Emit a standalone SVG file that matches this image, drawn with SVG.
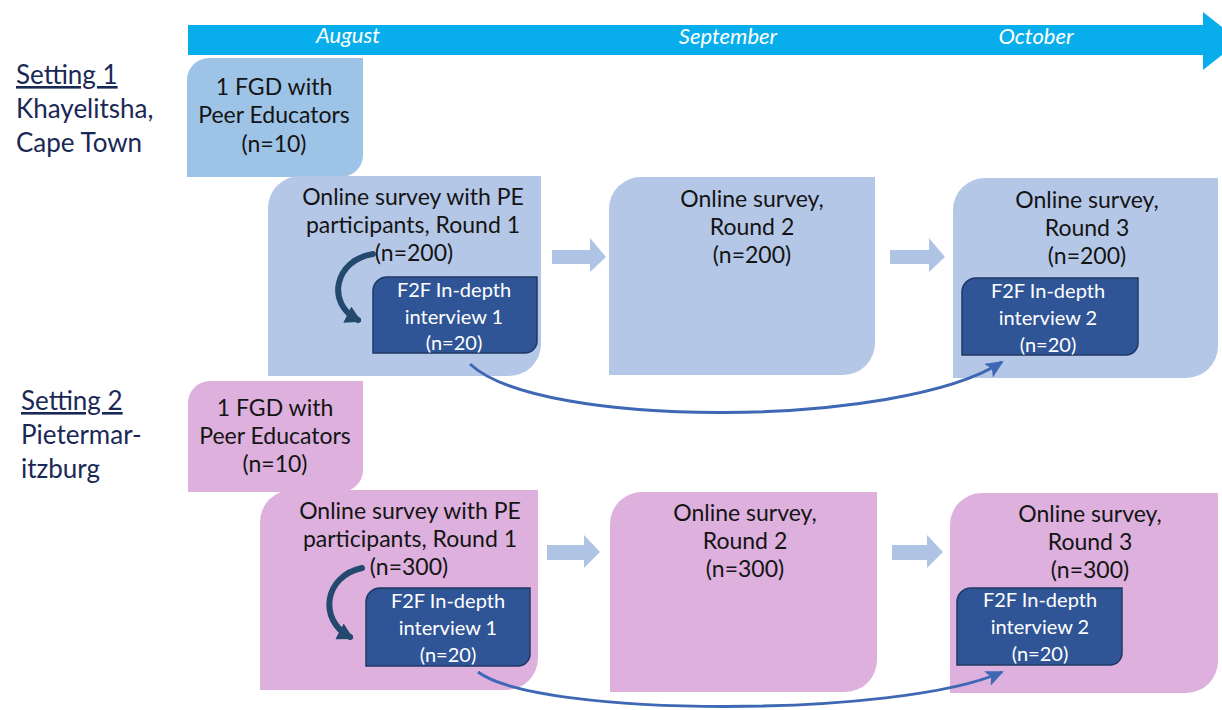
<svg xmlns="http://www.w3.org/2000/svg" width="1222" height="710" viewBox="0 0 1222 710">
  <defs>
    <style>
      .box-txt { font-family: Lato, "Liberation Sans", sans-serif; font-size: 23px; fill: #141414; text-anchor: middle; }
      .f2f-txt { font-family: Lato, "Liberation Sans", sans-serif; font-size: 20px; fill: #ffffff; text-anchor: middle; }
      .month { font-family: Lato, "Liberation Sans", sans-serif; font-size: 22px; font-style: italic; fill: #ffffff; text-anchor: middle; }
      .setting { font-family: Lato, "Liberation Sans", sans-serif; font-size: 26px; fill: #1a2856; }
      .blue1 { fill: #9dc3e6; }
      .blue2 { fill: #b4c7e7; }
      .pink { fill: #ddb0de; }
      .f2f { fill: #2f5597; stroke: #1f3864; stroke-width: 1.5; }
      .step { fill: #afc3e4; }
      .loop { fill: none; stroke: #234a6e; stroke-width: 6; stroke-linecap: round; }
      .link { fill: none; stroke: #3e68b3; stroke-width: 3; }
    </style>
    <marker id="loopHead" markerUnits="userSpaceOnUse" markerWidth="20" markerHeight="20" refX="12" refY="9" orient="auto">
      <path d="M0,0 L16,9 L0,18 Z" fill="#234a6e"/>
    </marker>
    <marker id="linkHead" markerUnits="userSpaceOnUse" markerWidth="20" markerHeight="18" refX="16" refY="8" orient="auto">
      <path d="M0,0 L18,8 L0,16 L4,8 Z" fill="#3e68b3"/>
    </marker>
  </defs>

  <rect width="1222" height="710" fill="#ffffff"/>

  <!-- timeline -->
  <g id="timeline">
    <polygon points="188,25 1203,25 1203,12 1240,41 1203,70 1203,55 188,55" fill="#07aeeb"/>
    <text class="month" x="348" y="43">August</text>
    <text class="month" x="728" y="44">September</text>
    <text class="month" x="1036" y="44">October</text>
  </g>

  <!-- setting labels -->
  <g id="setting1">
    <text class="setting" x="16" y="84" text-decoration="underline">Setting 1</text>
    <text class="setting" x="16" y="118">Khayelitsha,</text>
    <text class="setting" x="16" y="152">Cape Town</text>
  </g>
  <g id="setting2">
    <text class="setting" x="21" y="410" text-decoration="underline">Setting 2</text>
    <text class="setting" x="21" y="444">Pietermar-</text>
    <text class="setting" x="21" y="478">itzburg</text>
  </g>

  <!-- Setting 1 row -->
  <g id="s1-fgd">
    <path class="blue1" d="M187,80 A22,22 0 0 1 209,58 H363 V155 A22,22 0 0 1 341,177 H187 Z"/>
    <text class="box-txt" x="274" y="95">1 FGD with</text>
    <text class="box-txt" x="274" y="123">Peer Educators</text>
    <text class="box-txt" x="274" y="152">(n=10)</text>
  </g>
  <g id="s1-round1">
    <path class="blue2" d="M268,208 A32,32 0 0 1 300,176 H541 V344 A32,32 0 0 1 509,376 H268 Z"/>
    <text class="box-txt" x="413" y="205">Online survey with PE</text>
    <text class="box-txt" x="413" y="233">participants, Round 1</text>
    <text class="box-txt" x="414" y="261">(n=200)</text>
  </g>
  <g id="s1-idi1">
    <path class="f2f" d="M373,291 A14,14 0 0 1 387,277 H537 V341 A12,12 0 0 1 525,353 H373 Z"/>
    <text class="f2f-txt" x="454" y="297">F2F In-depth</text>
    <text class="f2f-txt" x="454" y="324">interview 1</text>
    <text class="f2f-txt" x="454" y="350">(n=20)</text>
  </g>
  <g id="s1-round2">
    <path class="blue2" d="M609,209 A32,32 0 0 1 641,177 H875 V343 A32,32 0 0 1 843,375 H609 Z"/>
    <text class="box-txt" x="752" y="207">Online survey,</text>
    <text class="box-txt" x="752" y="235">Round 2</text>
    <text class="box-txt" x="752" y="263">(n=200)</text>
  </g>
  <g id="s1-round3">
    <path class="blue2" d="M953,210 A32,32 0 0 1 985,178 H1218 V346 A32,32 0 0 1 1186,378 H953 Z"/>
    <text class="box-txt" x="1087" y="208">Online survey,</text>
    <text class="box-txt" x="1087" y="236">Round 3</text>
    <text class="box-txt" x="1087" y="264">(n=200)</text>
  </g>
  <g id="s1-idi2">
    <path class="f2f" d="M962,292 A14,14 0 0 1 976,278 H1138 V343 A12,12 0 0 1 1126,355 H962 Z"/>
    <text class="f2f-txt" x="1048" y="298">F2F In-depth</text>
    <text class="f2f-txt" x="1048" y="325">interview 2</text>
    <text class="f2f-txt" x="1048" y="352">(n=20)</text>
  </g>

  <!-- Setting 2 row -->
  <g id="s2-fgd">
    <path class="pink" d="M188,403 A22,22 0 0 1 210,381 H363 V470 A22,22 0 0 1 341,492 H188 Z"/>
    <text class="box-txt" x="275" y="416">1 FGD with</text>
    <text class="box-txt" x="275" y="444">Peer Educators</text>
    <text class="box-txt" x="275" y="472">(n=10)</text>
  </g>
  <g id="s2-round1">
    <path class="pink" d="M260,522 A32,32 0 0 1 292,490 H538 V658 A32,32 0 0 1 506,690 H260 Z"/>
    <text class="box-txt" x="410" y="519">Online survey with PE</text>
    <text class="box-txt" x="410" y="547">participants, Round 1</text>
    <text class="box-txt" x="409" y="575">(n=300)</text>
  </g>
  <g id="s2-idi1">
    <path class="f2f" d="M366,602 A14,14 0 0 1 380,588 H530 V654 A12,12 0 0 1 518,666 H366 Z"/>
    <text class="f2f-txt" x="448" y="608">F2F In-depth</text>
    <text class="f2f-txt" x="448" y="635">interview 1</text>
    <text class="f2f-txt" x="448" y="662">(n=20)</text>
  </g>
  <g id="s2-round2">
    <path class="pink" d="M610,524 A32,32 0 0 1 642,492 H877 V660 A32,32 0 0 1 845,692 H610 Z"/>
    <text class="box-txt" x="745" y="521">Online survey,</text>
    <text class="box-txt" x="745" y="549">Round 2</text>
    <text class="box-txt" x="745" y="577">(n=300)</text>
  </g>
  <g id="s2-round3">
    <path class="pink" d="M950,525 A32,32 0 0 1 982,493 H1218 V661 A32,32 0 0 1 1186,693 H950 Z"/>
    <text class="box-txt" x="1090" y="522">Online survey,</text>
    <text class="box-txt" x="1090" y="550">Round 3</text>
    <text class="box-txt" x="1090" y="578">(n=300)</text>
  </g>
  <g id="s2-idi2">
    <path class="f2f" d="M957,602 A14,14 0 0 1 971,588 H1122 V653 A12,12 0 0 1 1110,665 H957 Z"/>
    <text class="f2f-txt" x="1040" y="607">F2F In-depth</text>
    <text class="f2f-txt" x="1040" y="634">interview 2</text>
    <text class="f2f-txt" x="1040" y="661">(n=20)</text>
  </g>

  <!-- connectors -->
  <g id="connectors">
    <!-- round-to-round step arrows -->
    <polygon class="step" points="552,250 590,250 590,238 606,257 590,272 590,264 552,264"/>
    <polygon class="step" points="890,250 929,250 929,238 945,257 929,272 929,264 890,264"/>
    <polygon class="step" points="547,545 584,545 584,535 600,552 584,568 584,560 547,560"/>
    <polygon class="step" points="892,545 927,545 927,535 943,552 927,568 927,560 892,560"/>
    <!-- survey to interview loops -->
    <path class="loop" d="M373,254 C334,260 326,304 358,320" marker-end="url(#loopHead)"/>
    <path class="loop" d="M362,568 C324,576 318,620 350,637" marker-end="url(#loopHead)"/>
    <!-- interview 1 to interview 2 -->
    <path class="link" d="M470,364 C540,430 900,428 1002,362" marker-end="url(#linkHead)"/>
    <path class="link" d="M478,672 C540,718 900,718 1002,672" marker-end="url(#linkHead)"/>
  </g>
</svg>
